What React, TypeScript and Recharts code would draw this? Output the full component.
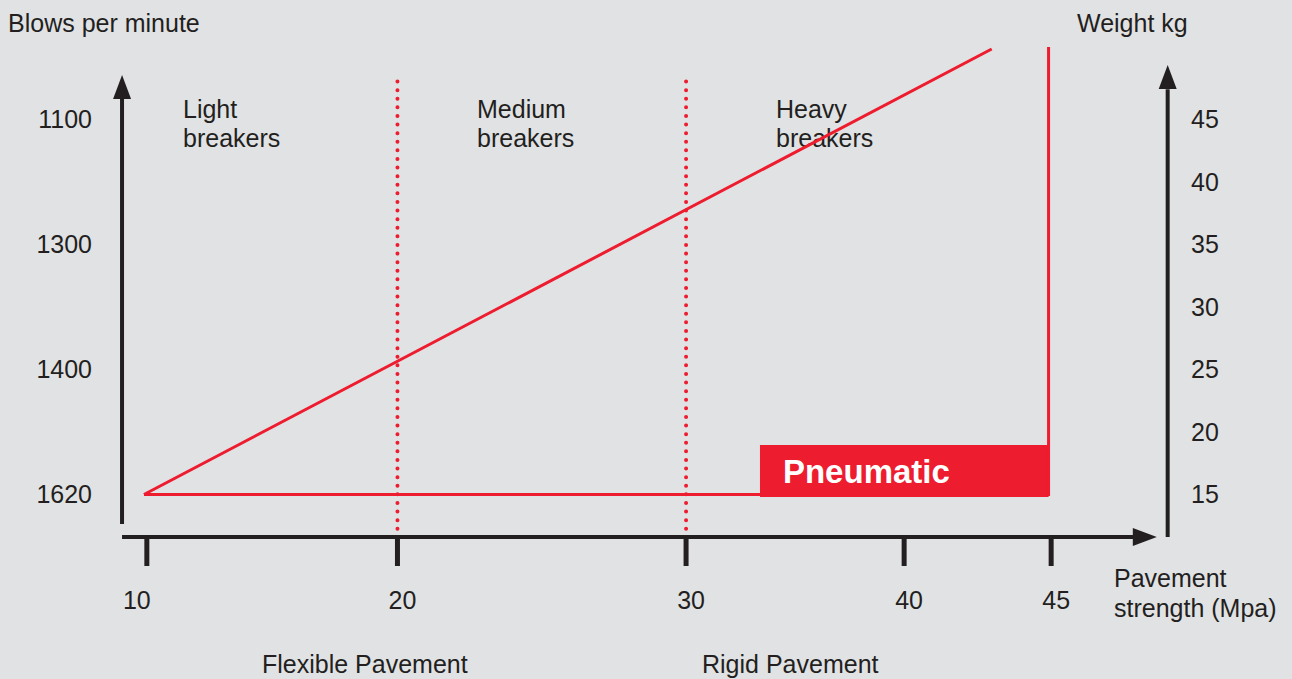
import { ComposedChart, Line, XAxis, YAxis, ReferenceLine, ReferenceArea, ReferenceDot } from 'recharts'

const INK = '#231f20'
const RED = '#ed1c2e'
const BG = '#e1e2e4'
const FONT = '"Liberation Sans", Arial, Helvetica, sans-serif'

// pavement strength (Mpa): labels, and where each one sits on the (unevenly drawn) axis
const strengthTicks = [10, 20, 30, 40, 45]
const strengthTickAt = [10, 19.7, 30.87, 39.31, 45]

// blows per minute, printed against the weight scale
const blowsTicks = [15, 25, 35, 45]
const blowsLabels = ['1620', '1400', '1300', '1100']

const weightTicks = [15, 20, 25, 30, 35, 40, 45]

// breaker weight rising with pavement strength
const weightLine = [
  { pos: 9.89, kg: 15 },
  { pos: 42.7, kg: 50.6 },
]

// pneumatic outline: flat floor, then the cut-off near 45 Mpa
const pneumaticLine = [
  { pos: 9.89, kg: 15 },
  { pos: 44.9, kg: 15 },
  { pos: 44.9, kg: 50.76 },
]
const pneumaticX = [33.73, 44.9]
const pneumaticKg = [14.8, 18.95]

// light / medium / heavy boundaries
const zoneBounds = [20, 30]
const zoneTopKg = 48

// axis frame (data units)
const axisLeftPos = 9.04
const axisRightPos = 49.51
const axisFloorKg = 11.6
const leftAxisKg = [12.64, 46.61, 48.52]
const rightAxisKg = [11.6, 47.38, 49.32]
const floorAxisPos = [9.04, 48.17, 49.09]

const at = (v: number) => strengthTickAt[strengthTicks.indexOf(v)]

const arrowUp = (p: any) => <path d={`M${p.cx},${p.cy}l-9,24h18z`} fill={INK} />
const arrowRight = (p: any) => <path d={`M${p.cx},${p.cy}l-24,-9v18z`} fill={INK} />

const StrengthTick = ({ x, y, payload }: any) => {
  const label = strengthTicks[strengthTickAt.indexOf(payload.value)]
  const nudge = label === 10 ? -10 : 5
  return (
    <text x={x + nudge} y={y} dy="0.71em" textAnchor="middle" fontSize={25} fill={INK}>
      {label}
    </text>
  )
}

function Notes() {
  const t = { fontSize: 25, fill: INK }
  return (
    <svg width={1292} height={679} style={{ position: 'absolute', left: 0, top: 0 }}>
      <text x={8} y={32} {...t}>Blows per minute</text>
      <text x={1077} y={32} {...t}>Weight kg</text>
      <text x={183} y={117.5} {...t}>Light</text>
      <text x={183} y={146.5} {...t}>breakers</text>
      <text x={477} y={117.5} {...t}>Medium</text>
      <text x={477} y={146.5} {...t}>breakers</text>
      <text x={776} y={117.5} {...t}>Heavy</text>
      <text x={776} y={146.5} {...t}>breakers</text>
      <text x={1114} y={587} {...t}>Pavement</text>
      <text x={1114} y={617} {...t}>strength (Mpa)</text>
      <text x={262} y={673} {...t}>Flexible Pavement</text>
      <text x={702} y={673} {...t}>Rigid Pavement</text>
    </svg>
  )
}

export default function App() {
  return (
    <div style={{ position: 'absolute', left: 0, top: 0, width: 1292, height: 679, background: BG, fontFamily: FONT, overflow: 'hidden' }}>
      <Notes />
      <div style={{ position: 'absolute', left: 0, top: 0 }}>
        <ComposedChart width={1292} height={679} margin={{ top: 34, right: 0, bottom: 0, left: 0 }}>
          <XAxis
            type="number"
            dataKey="pos"
            domain={[9, 49.6]}
            allowDataOverflow
            ticks={strengthTickAt}
            interval={0}
            height={142}
            axisLine={false}
            tickLine={{ stroke: INK, strokeWidth: 5 }}
            tickSize={29}
            tickMargin={25}
            tick={<StrengthTick />}
          />
          <YAxis
            yAxisId="blows"
            orientation="left"
            type="number"
            width={121}
            domain={[11.6, 51.8]}
            allowDataOverflow
            ticks={blowsTicks}
            interval={0}
            tickFormatter={(v: number) => blowsLabels[blowsTicks.indexOf(v)]}
            axisLine={false}
            tickLine={false}
            tickSize={0}
            tickMargin={29}
            tick={{ fill: INK, fontSize: 25 }}
          />
          <YAxis
            yAxisId="kg"
            orientation="right"
            type="number"
            width={122}
            domain={[11.6, 51.8]}
            allowDataOverflow
            ticks={weightTicks}
            interval={0}
            axisLine={false}
            tickLine={false}
            tickSize={0}
            tickMargin={21}
            tick={{ fill: INK, fontSize: 25 }}
          />

          <ReferenceArea
            yAxisId="kg"
            x1={pneumaticX[0]}
            x2={pneumaticX[1]}
            y1={pneumaticKg[0]}
            y2={pneumaticKg[1]}
            fill={RED}
            fillOpacity={1}
            stroke="none"
            ifOverflow="visible"
            label={{ value: 'Pneumatic', position: 'insideLeft', offset: 23, fill: '#ffffff', fontSize: 33, fontWeight: 'bold' }}
          />

          {zoneBounds.map((b) => (
            <ReferenceLine
              key={b}
              yAxisId="kg"
              segment={[{ x: at(b), y: zoneTopKg }, { x: at(b), y: axisFloorKg }]}
              stroke={RED}
              strokeWidth={4}
              strokeDasharray="0 8.6"
              strokeLinecap="round"
              ifOverflow="visible"
            />
          ))}

          {/* axis frame */}
          <ReferenceLine
            yAxisId="kg"
            segment={[{ x: axisLeftPos, y: leftAxisKg[0] }, { x: axisLeftPos, y: leftAxisKg[1] }]}
            stroke={INK}
            strokeWidth={4}
            ifOverflow="visible"
          />
          <ReferenceLine
            yAxisId="kg"
            segment={[{ x: axisRightPos, y: rightAxisKg[0] }, { x: axisRightPos, y: rightAxisKg[1] }]}
            stroke={INK}
            strokeWidth={4}
            ifOverflow="visible"
          />
          <ReferenceLine
            yAxisId="kg"
            segment={[{ x: floorAxisPos[0], y: axisFloorKg }, { x: floorAxisPos[1], y: axisFloorKg }]}
            stroke={INK}
            strokeWidth={4}
            ifOverflow="visible"
          />
          <ReferenceDot yAxisId="kg" x={axisLeftPos} y={leftAxisKg[2]} r={1} shape={arrowUp} ifOverflow="visible" />
          <ReferenceDot yAxisId="kg" x={axisRightPos} y={rightAxisKg[2]} r={1} shape={arrowUp} ifOverflow="visible" />
          <ReferenceDot yAxisId="kg" x={floorAxisPos[2]} y={axisFloorKg} r={1} shape={arrowRight} ifOverflow="visible" />

          <Line
            yAxisId="kg"
            data={pneumaticLine}
            dataKey="kg"
            type="linear"
            stroke={RED}
            strokeWidth={3}
            dot={false}
            activeDot={false}
            isAnimationActive={false}
          />
          <Line
            yAxisId="kg"
            data={weightLine}
            dataKey="kg"
            type="linear"
            stroke={RED}
            strokeWidth={3}
            dot={false}
            activeDot={false}
            isAnimationActive={false}
          />
        </ComposedChart>
      </div>
    </div>
  )
}
